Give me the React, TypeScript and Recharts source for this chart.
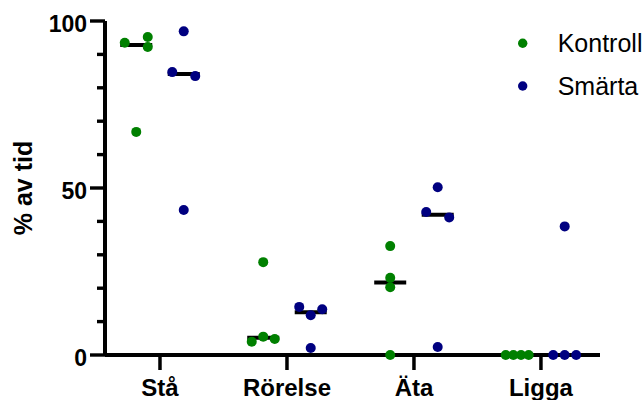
import { ScatterChart, Scatter, XAxis, YAxis, Legend } from "recharts";

const categories = ["Stå", "Rörelse", "Äta", "Ligga"];

// % av tid per individ, one inner array per category
const kontroll = [
  [93.5, 95.2, 92.2, 66.8],
  [27.8, 5.5, 4.0, 4.8],
  [32.6, 23.1, 20.3, 0],
  [0, 0, 0, 0],
];
const smarta = [
  [96.9, 84.7, 83.5, 43.4],
  [14.4, 11.9, 13.7, 2.1],
  [50.2, 42.8, 41.2, 2.4],
  [0, 0, 0, 38.5],
];

// horizontal scatter slot of each dot (layout only)
const kontrollSpread = [
  [-1, 1, 1, 0],
  [0, 0, -1, 1],
  [0, 0, 0, 0],
  [-1, -1 / 3, 1 / 3, 1],
];
const smartaSpread = [
  [0, -1, 1, 0],
  [-1, 0, 1, 0],
  [0, -1, 1, 0],
  [-1, 0, 1, 0],
];

const yTicks = [0, 10, 20, 30, 40, 50, 60, 70, 80, 90, 100];
const yLabeled = [0, 50, 100];

const GREEN = "#008000";
const NAVY = "#000080";
const FONT = "Arial, 'Liberation Sans', sans-serif";
const GROUP_OFFSET = 0.187;
const STEP = 0.0905;

function median(v: number[]) {
  const s = [...v].sort((a, b) => a - b);
  const m = Math.floor(s.length / 2);
  return s.length % 2 ? s[m] : (s[m - 1] + s[m]) / 2;
}

function toPoints(values: number[][], spread: number[][], side: number) {
  return values.flatMap((vals, i) =>
    vals.map((y, j) => ({ x: i + 1 + side * GROUP_OFFSET + spread[i][j] * STEP, y }))
  );
}

const kontrollPts = toPoints(kontroll, kontrollSpread, -1);
const smartaPts = toPoints(smarta, smartaSpread, 1);
const medianPts = categories.flatMap((_, i) => [
  { x: i + 1 - GROUP_OFFSET, y: median(kontroll[i]) },
  { x: i + 1 + GROUP_OFFSET, y: median(smarta[i]) },
]);

const Dot = (color: string) => (p: any) => <circle cx={p.cx} cy={p.cy} r={5} fill={color} />;

const MedianLine = (p: any) => (
  <line x1={p.cx - 16} x2={p.cx + 16} y1={p.cy} y2={p.cy} stroke="#000" strokeWidth={4} />
);

const YTick = (p: any) => {
  const v = p.payload.value;
  const major = yLabeled.includes(v);
  return (
    <g>
      <line x1={p.x - (major ? 15 : 8)} x2={p.x} y1={p.y} y2={p.y} stroke="#000" strokeWidth={3.4} />
      {major && (
        <text x={p.x - 18} y={p.y + 10.5} textAnchor="end" fontFamily={FONT} fontWeight="bold" fontSize={23} fill="#000">
          {v}
        </text>
      )}
    </g>
  );
};

const XTick = (p: any) => (
  <g>
    <line x1={p.x} x2={p.x} y1={p.y} y2={p.y + 15} stroke="#000" strokeWidth={3.5} />
    <text x={p.x} y={p.y + 41} textAnchor="middle" fontFamily={FONT} fontWeight="bold" fontSize={24} fill="#000">
      {categories[p.payload.value - 1]}
    </text>
  </g>
);

const YLabel = () => (
  <text
    x={32}
    y={188}
    transform="rotate(-90, 32, 188)"
    textAnchor="middle"
    fontFamily={FONT}
    fontWeight="bold"
    fontSize={25}
    fill="#000"
  >
    % av tid
  </text>
);

const LegendBox = (props: any) => {
  const items = (props.payload || []).filter((e: any) => e.type !== "none");
  return (
    <svg width={134} height={90} style={{ overflow: "visible" }}>
      {items.map((e: any, i: number) => (
        <g key={e.value}>
          <circle cx={12.7} cy={18.3 + i * 42.7} r={4.7} fill={e.color} />
          <text x={47.7} y={27 + i * 42.7} fontFamily={FONT} fontSize={25} fill="#000">
            {e.value}
          </text>
        </g>
      ))}
    </svg>
  );
};

export default function App() {
  return (
    <div style={{ position: "absolute", left: 0, top: 0 }}>
      <ScatterChart width={644} height={400} margin={{ top: 21, right: 44, bottom: 0, left: 0 }}>
        <XAxis
          type="number"
          dataKey="x"
          domain={[0.567, 4.465]}
          ticks={[1, 2, 3, 4]}
          height={45}
          axisLine={{ stroke: "#000", strokeWidth: 4 }}
          tickLine={false}
          tickSize={0}
          tickMargin={0}
          tick={<XTick />}
          interval={0}
        />
        <YAxis
          type="number"
          dataKey="y"
          domain={[0, 100]}
          ticks={yTicks}
          width={105}
          axisLine={{ stroke: "#000", strokeWidth: 4 }}
          tickLine={false}
          tickSize={0}
          tickMargin={0}
          tick={<YTick />}
          interval={0}
          label={<YLabel />}
        />
        <Legend
          layout="vertical"
          align="center"
          verticalAlign="middle"
          wrapperStyle={{ left: 510, top: 25, width: 134 }}
          content={<LegendBox />}
        />
        <Scatter name="median" data={medianPts} shape={MedianLine} legendType="none" isAnimationActive={false} />
        <Scatter name="Kontroll" data={kontrollPts} fill={GREEN} shape={Dot(GREEN)} isAnimationActive={false} />
        <Scatter name="Smärta" data={smartaPts} fill={NAVY} shape={Dot(NAVY)} isAnimationActive={false} />
      </ScatterChart>
    </div>
  );
}
